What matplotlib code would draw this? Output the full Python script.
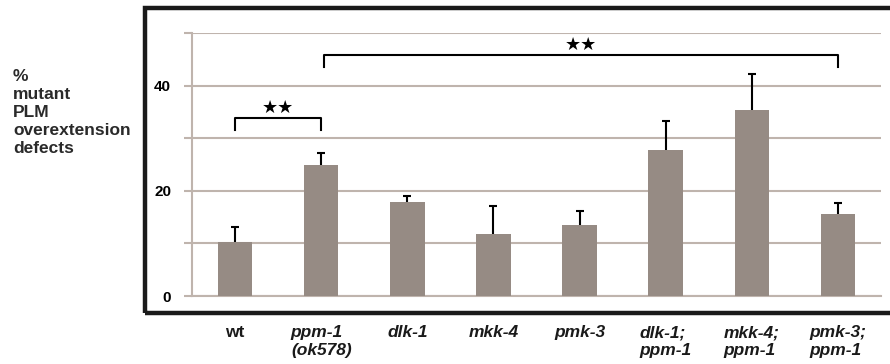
import matplotlib
matplotlib.use('Agg')
import matplotlib.pyplot as plt
import matplotlib.patches as patches
import numpy as np

plt.rcParams['font.family'] = ['Liberation Sans', 'DejaVu Sans']

strains = ['wt', 'ppm-1\n(ok578)', 'dlk-1', 'mkk-4', 'pmk-3',
           'dlk-1;\nppm-1', 'mkk-4;\nppm-1', 'pmk-3;\nppm-1']
defects = [10.2, 25.0, 17.8, 11.8, 13.5, 27.8, 35.4, 15.6]
errors = [3.0, 2.2, 1.3, 5.3, 2.6, 5.4, 6.8, 2.0]
y_ticks = [0, 10, 20, 30, 40, 50]
y_labels = ['0', '', '20', '', '40', '']

grid_col = '#bfb4ad'
bar_col = '#968b84'

fig = plt.figure(figsize=(8.9, 3.64), dpi=100)
ax = fig.add_axes([192/890, (364-296)/364, (881-192)/890, (296-33)/364])

x = np.arange(len(strains))
vals = np.array(defects)
errs = np.array(errors)

ax.bar(x, vals, width=0.4, color=bar_col, zorder=3)
# upper error bars only
ax.vlines(x, vals, vals + errs, color='black', lw=1.5, zorder=4)
ax.scatter(x, vals + errs, marker='_', s=40, color='black', lw=1.5, zorder=4)

ax.set_xlim(-0.5, len(strains) - 0.5)
ax.set_ylim(0, 50)
ax.set_yticks(y_ticks)
ax.set_yticklabels(y_labels, fontsize=11, fontweight='bold')
ax.yaxis.grid(True, color=grid_col, lw=1.5, zorder=0)
ax.tick_params(axis='y', direction='out', length=6, width=1.5, color=grid_col, pad=9)
ax.set_xticks([])
for side in ['top', 'right']:
    ax.spines[side].set_visible(False)
ax.spines['left'].set_color(grid_col)
ax.spines['left'].set_linewidth(1.5)
ax.spines['bottom'].set_color(grid_col)
ax.spines['bottom'].set_linewidth(1.5)

# strain labels below the frame
for i, s in enumerate(strains):
    style = 'normal' if s == 'wt' else 'italic'
    ax.text(i, -5.6, s, ha='center', va='top', ma='left', fontsize=12.5,
            fontweight='bold', fontstyle=style, linespacing=1.2,
            color='#1a1a1a')

# significance brackets
def bracket(x0, x1, y, h, label):
    ax.plot([x0, x0, x1, x1], [y - h, y, y, y - h], color='black', lw=1.5,
            clip_on=False, zorder=5)
    ax.text((x0 + x1) / 2, y + 0.3, label, ha='center', va='bottom',
            fontsize=13, family='DejaVu Sans', clip_on=False)

bracket(0, 1, 33.8, 2.2, '\u2605\u2605')
bracket(1.03, 7, 45.8, 2.3, '\u2605\u2605')

fig.text(13/890, 1 - 69/364, '%\nmutant\nPLM\noverextension\ndefects',
         ha='left', va='top', fontsize=12.5, fontweight='bold', linespacing=1.24,
         color='#2a2a2a')

frame = patches.Rectangle((145/890, (364-313)/364), 1.0, (313-8)/364,
                          transform=fig.transFigure, fill=False,
                          edgecolor='#1a1a1a', lw=3.2, clip_on=False)
fig.patches.append(frame)

fig.savefig('out.png', dpi=100)
